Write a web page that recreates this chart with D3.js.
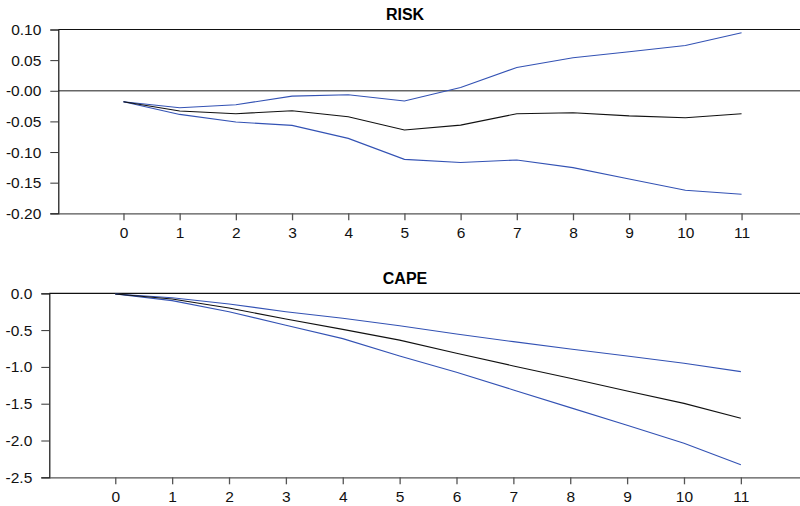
<!DOCTYPE html>
<html>
<head>
<meta charset="utf-8">
<script src="https://cdn.jsdelivr.net/npm/d3@7/dist/d3.min.js"></script>
<style>
  html, body { margin: 0; padding: 0; background: #fff; }
  svg { display: block; font-family: "Liberation Sans", Arial, Helvetica, sans-serif; }
</style>
</head>
<body>
<svg id="chart" width="800" height="506"></svg>
<script>
// horizons 0..11
const periods = [0, 1, 2, 3, 4, 5, 6, 7, 8, 9, 10, 11];

// RISK response
const riskMid   = [-0.018, -0.033, -0.0375, -0.0326, -0.0424, -0.064, -0.056, -0.0375, -0.0359, -0.041, -0.044, -0.0375];
const riskUpper = [-0.018, -0.0277, -0.0228, -0.0087, -0.0065, -0.0168, 0.0054, 0.038, 0.0538, 0.0636, 0.0739, 0.0946];
const riskLower = [-0.018, -0.0386, -0.051, -0.0565, -0.0777, -0.112, -0.117, -0.113, -0.1255, -0.144, -0.1625, -0.169];
const riskTicks = [0.10, 0.05, 0, -0.05, -0.10, -0.15, -0.20];

// CAPE response
const capeMid   = [-0.01, -0.077, -0.2, -0.35, -0.49, -0.636, -0.815, -0.987, -1.155, -1.327, -1.495, -1.698];
const capeUpper = [-0.01, -0.06, -0.145, -0.25, -0.34, -0.44, -0.553, -0.657, -0.756, -0.851, -0.951, -1.064];
const capeLower = [-0.01, -0.1, -0.25, -0.435, -0.616, -0.851, -1.073, -1.313, -1.553, -1.793, -2.038, -2.328];
const capeTicks = [0.0, -0.5, -1.0, -1.5, -2.0, -2.5];

const svg = d3.select('#chart');
const W = 800;
const BLUE = '#3352b4';

function panel(opts) {
    const g = svg.append('g');
    const x = d3.scaleLinear().domain([-1.16, 12.04]).range([opts.left, W]);
    const y = d3.scaleLinear().domain(opts.yDomain).range([opts.bottom, opts.top]);

    // title
    g.append('text')
        .attr('x', 405).attr('y', opts.top - 9.5)
        .attr('text-anchor', 'middle')
        .style('font-size', '16px').style('font-weight', 'bold')
        .text(opts.title);

    // top frame line
    g.append('line')
        .attr('x1', opts.left).attr('x2', W)
        .attr('y1', opts.top).attr('y2', opts.top)
        .attr('stroke', '#111').attr('stroke-width', 1.2);

    // zero line (only when zero is inside)
    if (opts.zeroLine) {
        g.append('line')
            .attr('x1', opts.left).attr('x2', W)
            .attr('y1', y(0)).attr('y2', y(0))
            .attr('stroke', '#666').attr('stroke-width', 1.3);
    }

    // y axis
    const yAxis = g.append('g')
        .attr('transform', `translate(${opts.left},0)`)
        .call(d3.axisLeft(y).tickValues(opts.ticks).tickSize(8).tickPadding(9).tickFormat(opts.fmt));
    yAxis.select('.domain').attr('stroke', '#111').attr('stroke-width', 1.2);
    yAxis.selectAll('.tick line').attr('stroke', '#333');
    yAxis.selectAll('text').style('font-size', '15.5px').attr('fill', '#111');

    // x axis
    const xAxis = g.append('g')
        .attr('transform', `translate(0,${opts.bottom})`)
        .call(d3.axisBottom(x).tickValues(periods).tickSize(7).tickPadding(7).tickSizeOuter(0).tickFormat(d3.format('d')));
    xAxis.select('.domain').attr('stroke', '#555').attr('stroke-width', 1.3);
    xAxis.selectAll('.tick line').attr('stroke', '#555').attr('stroke-width', 1.3);
    xAxis.selectAll('text').style('font-size', '15.5px').attr('fill', '#111');

    const line = d3.line().x((d, i) => x(periods[i])).y(d => y(d));

    g.append('path').datum(opts.upper).attr('d', line)
        .attr('fill', 'none').attr('stroke', BLUE).attr('stroke-width', 1.1);
    g.append('path').datum(opts.lower).attr('d', line)
        .attr('fill', 'none').attr('stroke', BLUE).attr('stroke-width', 1.1);
    g.append('path').datum(opts.mid).attr('d', line)
        .attr('fill', 'none').attr('stroke', '#111').attr('stroke-width', 1.15);
}

panel({
    title: 'RISK',
    left: 58.3, top: 29.5, bottom: 213.3,
    yDomain: [-0.2, 0.1],
    ticks: riskTicks,
    fmt: d => d === 0 ? '-0.00' : d.toFixed(2),
    zeroLine: true,
    mid: riskMid, upper: riskUpper, lower: riskLower
});

panel({
    title: 'CAPE',
    left: 49.3, top: 293.3, bottom: 477.3,
    yDomain: [-2.5, 0],
    ticks: capeTicks,
    fmt: d => d.toFixed(1),
    zeroLine: false,
    mid: capeMid, upper: capeUpper, lower: capeLower
});
</script>
</body>
</html>
